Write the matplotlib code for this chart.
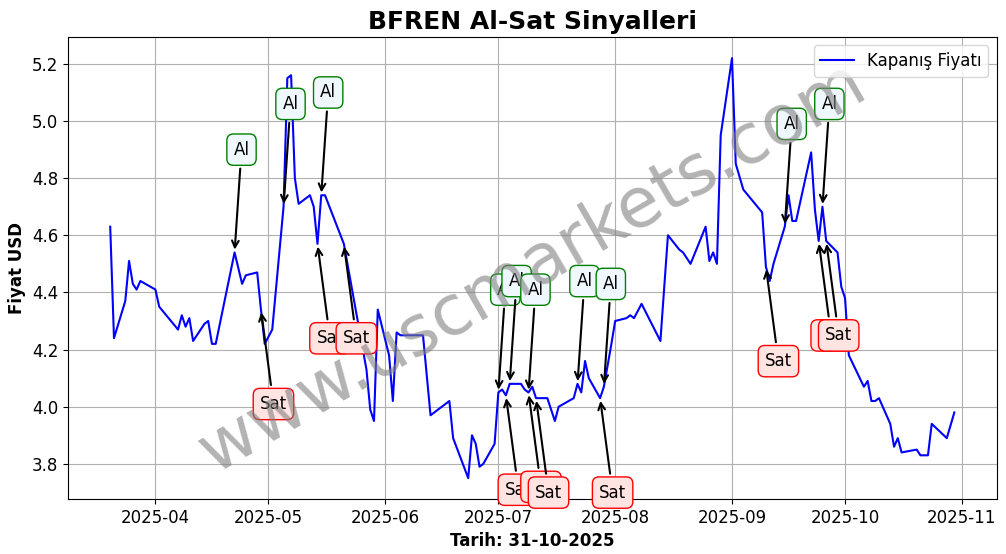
import matplotlib
matplotlib.use("Agg")
import matplotlib.pyplot as plt
import matplotlib.dates as mdates
import pandas as pd

dates = ["2025-03-20","2025-03-21","2025-03-24","2025-03-25","2025-03-26","2025-03-27","2025-03-28",
"2025-04-01","2025-04-02","2025-04-07","2025-04-08","2025-04-09","2025-04-10","2025-04-11","2025-04-14",
"2025-04-15","2025-04-16","2025-04-17","2025-04-22","2025-04-24","2025-04-25","2025-04-28","2025-04-29","2025-04-30",
"2025-05-02","2025-05-05","2025-05-06","2025-05-07","2025-05-08","2025-05-09","2025-05-12","2025-05-13",
"2025-05-14","2025-05-15","2025-05-16","2025-05-21","2025-05-27","2025-05-28","2025-05-29","2025-05-30",
"2025-06-02","2025-06-03","2025-06-04","2025-06-05","2025-06-10","2025-06-11","2025-06-13","2025-06-17",
"2025-06-18","2025-06-19","2025-06-23","2025-06-24","2025-06-25","2025-06-26","2025-06-27","2025-06-30",
"2025-07-01","2025-07-02","2025-07-03","2025-07-04","2025-07-07","2025-07-08","2025-07-09","2025-07-10",
"2025-07-11","2025-07-14","2025-07-16","2025-07-17","2025-07-21","2025-07-22","2025-07-23","2025-07-24",
"2025-07-25","2025-07-28","2025-07-29","2025-07-31","2025-08-01","2025-08-04","2025-08-05","2025-08-06",
"2025-08-08","2025-08-13","2025-08-15","2025-08-18","2025-08-19","2025-08-21","2025-08-25","2025-08-26",
"2025-08-27","2025-08-28","2025-08-29","2025-09-01","2025-09-02","2025-09-04","2025-09-09","2025-09-10",
"2025-09-11","2025-09-12","2025-09-15","2025-09-16","2025-09-17","2025-09-18","2025-09-22","2025-09-23",
"2025-09-24","2025-09-25","2025-09-26","2025-09-29","2025-09-30","2025-10-01","2025-10-02","2025-10-06",
"2025-10-07","2025-10-08","2025-10-09","2025-10-10","2025-10-13","2025-10-14","2025-10-15","2025-10-16",
"2025-10-20","2025-10-21","2025-10-23","2025-10-24","2025-10-28","2025-10-30"]
prices = [4.63,4.24,4.37,4.51,4.43,4.41,4.44,
4.41,4.35,4.27,4.32,4.28,4.31,4.23,4.29,
4.30,4.22,4.22,4.54,4.43,4.46,4.47,4.34,4.22,
4.27,4.70,5.15,5.16,4.80,4.71,4.74,4.70,
4.57,4.74,4.74,4.57,4.13,3.99,3.95,4.34,
4.18,4.02,4.26,4.25,4.25,4.25,3.97,4.01,
4.02,3.89,3.75,3.90,3.87,3.79,3.80,3.87,
4.05,4.06,4.04,4.08,4.08,4.06,4.05,4.07,
4.03,4.03,3.95,4.00,4.03,4.08,4.05,4.16,
4.10,4.03,4.07,4.22,4.30,4.31,4.32,4.31,
4.36,4.23,4.60,4.55,4.54,4.50,4.63,4.51,
4.54,4.50,4.95,5.22,4.85,4.76,4.68,4.49,
4.44,4.50,4.63,4.74,4.65,4.65,4.89,4.69,
4.58,4.70,4.58,4.54,4.42,4.38,4.18,4.07,
4.09,4.02,4.02,4.03,3.94,3.86,3.89,3.84,
3.85,3.83,3.83,3.94,3.89,3.98]

buy_dates = ["2025-04-22","2025-05-05","2025-05-15","2025-07-01","2025-07-04","2025-07-09","2025-07-22","2025-07-29","2025-09-15","2025-09-25"]
sell_dates = ["2025-04-29","2025-05-14","2025-05-21","2025-07-03","2025-07-09","2025-07-11","2025-07-28","2025-09-10","2025-09-24","2025-09-26"]

s = pd.Series(prices, index=pd.to_datetime(dates))

fig = plt.figure(figsize=(10.06, 5.54), dpi=100)
ax = fig.add_axes([0.0676, 0.099, 0.923, 0.834])
ax.plot(s.index, s.values, color="blue", lw=1.5, label="Kapanış Fiyatı")

for d in buy_dates:
    t = pd.Timestamp(d)
    ax.annotate("Al", xy=(t, s[t]), xytext=(5, 74), textcoords="offset points",
                ha="center", va="center", fontsize=12,
                arrowprops=dict(arrowstyle="->", color="black", lw=1.5),
                bbox=dict(boxstyle="round,pad=0.4", fc="aliceblue", ec="green"))
for d in sell_dates:
    t = pd.Timestamp(d)
    ax.annotate("Sat", xy=(t, s[t]), xytext=(9, -68), textcoords="offset points",
                ha="center", va="center", fontsize=12,
                arrowprops=dict(arrowstyle="->", color="black", lw=1.5),
                bbox=dict(boxstyle="round,pad=0.4", fc="mistyrose", ec="red"))

ax.text(0.5, 0.5, "www.uscmarkets.com", transform=ax.transAxes, fontsize=50,
        color="gray", alpha=0.6, rotation=30, ha="center", va="center")

ax.set_title("BFREN Al-Sat Sinyalleri", fontsize=18, fontweight="bold")
ax.set_xlabel("Tarih: 31-10-2025", fontsize=12, fontweight="bold")
ax.set_ylabel("Fiyat USD", fontsize=12, fontweight="bold")
ax.grid(True, color="#b0b0b0")
ax.tick_params(labelsize=12)
ax.xaxis.set_major_formatter(mdates.DateFormatter("%Y-%m"))
ax.legend(loc="upper right", fontsize=12)
fig.savefig("out.png", dpi=100)
